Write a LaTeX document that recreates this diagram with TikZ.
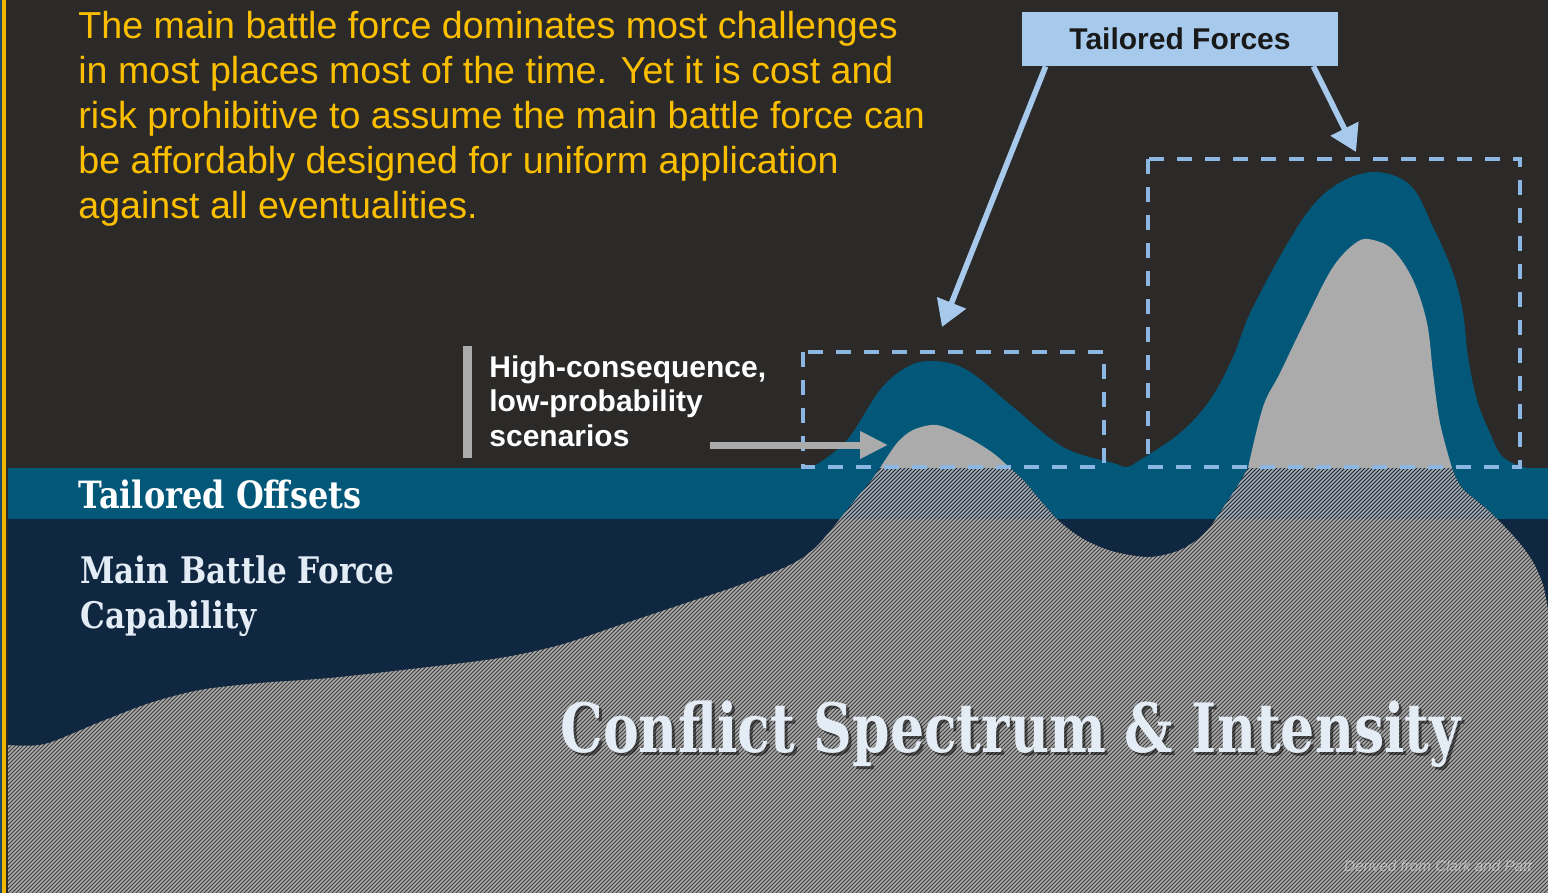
\documentclass[tikz,border=0pt]{standalone}
\usepackage{fontspec}
\setmainfont{Liberation Sans}
\newfontfamily\slabfont{DejaVu Serif}[FakeStretch=0.85]
\newfontfamily\bigslab{DejaVu Serif}[FakeStretch=0.79]
\usetikzlibrary{arrows.meta}

\definecolor{bgdark}{HTML}{2B2A29}
\definecolor{edgeblue}{HTML}{1B4A6B}
\definecolor{edgeyellow}{HTML}{F2B600}
\definecolor{textyellow}{HTML}{FBBF00}
\definecolor{offteal}{HTML}{03587A}
\definecolor{mbfnavy}{HTML}{0F2740}
\definecolor{humpgray}{HTML}{ABABAB}
\definecolor{hatchdark}{HTML}{3C3C3C}
\definecolor{boxblue}{HTML}{A6C9EC}
\definecolor{dashblue}{HTML}{8DB7E3}
\definecolor{slabwhite}{HTML}{E4ECF6}

\tikzset{
  bluearrow/.style={draw=boxblue, line width=2.8pt, -{Triangle[length=13pt,width=15pt]}},
  grayarrow/.style={draw=humpgray, line width=3.5pt, -{Triangle[length=14pt,width=13pt]}},
  dashbox/.style={draw=dashblue, line width=2pt, dash pattern=on 7.5pt off 6.5pt},
  slabtext/.style={font=\slabfont\bfseries\fontsize{18.5}{22.5}\selectfont, anchor=base west, inner sep=0pt, align=left},
}

\begin{document}
\begin{tikzpicture}[x=0.5pt,y=-0.5pt]
  \useasboundingbox (0,0) rectangle (1548,893);
  \fill[bgdark] (0,0) rectangle (1548,893);
  \fill[edgeblue] (0,0) rectangle (2,893);
  \fill[edgeyellow] (2,0) rectangle (6,893);

  % bands
  \fill[offteal] (8,468) rectangle (1548,519);
  \fill[mbfnavy] (8,519) rectangle (1548,893);

  % tailored offsets above the band
  \fill[offteal] plot[smooth, tension=0.6] coordinates {(805,469) (813,467) (847,440) (880,390) (907,367) (933,361) (967,370) (1013,407) (1063,447) (1113,463) (1127,467) (1140,460) (1180,433) (1210,400) (1233,357) (1253,307) (1300,223) (1333,187) (1373,172) (1410,185) (1433,227) (1453,273) (1463,313) (1468,357) (1477,400) (1490,433) (1503,457) (1527,468) (1548,468)} -- (1548,470) -- (805,470) -- cycle;

  % scenarios
  \fill[humpgray] plot[smooth] coordinates {(880,468) (897,443) (913,430) (937,425) (967,437) (993,453) (1010,468)} -- cycle;
  \fill[humpgray] plot[smooth, tension=0.6] coordinates {(1248,468) (1263,407) (1280,373) (1307,317) (1333,267) (1357,242) (1373,240) (1393,250) (1413,280) (1427,323) (1433,373) (1440,423) (1452,468)} -- cycle;

  % conflict spectrum, hatched
  \begin{scope}
    \clip plot[smooth, tension=0.5] coordinates {(8,745) (45,744) (100,722) (150,703) (200,690) (260,683) (330,678) (420,668) (500,658) (560,645) (620,625) (680,605) (740,585) (790,565) (815,548) (835,525) (855,500) (870,482) (880,468)}
      -- plot[smooth, tension=0.5] coordinates {(1010,468) (1025,482) (1040,500) (1060,522) (1085,540) (1115,552) (1150,557) (1180,550) (1205,533) (1225,505) (1240,482) (1248,468)}
      -- plot[smooth, tension=0.5] coordinates {(1452,468) (1462,488) (1490,512) (1517,540) (1533,562) (1543,585) (1548,610)}
      -- (1548,893) -- (8,893) -- cycle;
    \fill[hatchdark] (0,0) rectangle (1548,893);
    \fill[mbfnavy] (0,468) rectangle (1548,519);
    \foreach \i in {-900,-896,...,1548}
      \draw[humpgray, line width=0.8pt] (\i,895) -- ++(897,-897);
  \end{scope}

  % boxes round the peaks
  \draw[dashbox] (803,352) rectangle (1104,467);
  \draw[dashbox] (1148,159) rectangle (1520,467);

  \node[fill=boxblue, minimum width=158pt, minimum height=27pt, inner sep=0pt,
    font=\bfseries\fontsize{15}{18}\selectfont, text=black!90] (forces) at (1180,39) {Tailored Forces};
  \coordinate (lowtip) at (942,327);
  \coordinate (hightip) at (1356,152);
  \draw[bluearrow] ([xshift=12pt]forces.south west) -- (lowtip);
  \draw[bluearrow] ([xshift=-12.5pt]forces.south east) -- (hightip);

  % label and arrow
  \fill[humpgray] (463,346) rectangle (472,458);
  \node[anchor=base west, inner sep=0pt, align=left, text=white,
    font=\bfseries\fontsize{15}{17.25}\selectfont] (hcl) at (489,446) {High-consequence,\\low-probability\\scenarios};
  \coordinate (arrstart) at (710,445);
  \coordinate (arrend) at (888,445);
  \draw[grayarrow] (arrstart) -- (arrend);

  \node[anchor=base west, inner sep=0pt, align=left, text=textyellow,
    font=\fontsize{18.8}{22.5}\selectfont] (intro) at (78,219) {The main battle force dominates most challenges\\in most places most of the time. Yet it is cost and\\risk prohibitive to assume the main battle force can\\be affordably designed for uniform application\\against all eventualities.};

  \node[slabtext, text=white, font=\slabfont\bfseries\fontsize{18.8}{22.5}\selectfont] (offsets) at (78,508) {Tailored Offsets};
  \node[slabtext, text=slabwhite, font=\slabfont\bfseries\fontsize{18.3}{22.5}\selectfont] (mbf) at (80,628) {Main Battle Force\\Capability};
  \node[slabtext, text=black, opacity=0.5, font=\bigslab\bfseries\fontsize{34}{40}\selectfont] at (563,755) {Conflict Spectrum \& Intensity};
  \node[slabtext, text=slabwhite, font=\bigslab\bfseries\fontsize{34}{40}\selectfont] (conflict) at (560,752) {Conflict Spectrum \& Intensity};
  \node[anchor=east, inner sep=0pt, text=white, opacity=0.45, font=\itshape\fontsize{7.6}{9}\selectfont] (source) at (1532,866) {Derived from Clark and Patt};
\end{tikzpicture}
\end{document}
